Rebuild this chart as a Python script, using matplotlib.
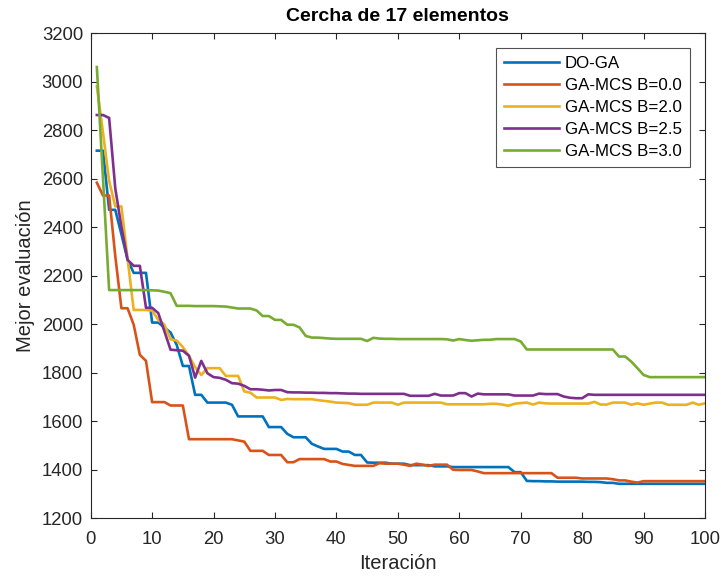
import matplotlib
matplotlib.use("Agg")
import matplotlib.pyplot as plt

# Data (best value per iteration)
iterations = list(range(1, 101))

do_ga = [2715, 2715, 2471, 2471, 2370, 2265, 2211, 2211, 2211, 2006,
         2006, 1985, 1965, 1914, 1827, 1827, 1708, 1708, 1676, 1676,
         1676, 1676, 1667, 1619, 1619, 1619, 1619, 1619, 1575, 1575,
         1575, 1547, 1533, 1533, 1533, 1506, 1495, 1485, 1485, 1485,
         1474, 1474, 1460, 1460, 1429, 1428, 1428, 1428, 1424, 1424,
         1424, 1418, 1418, 1418, 1418, 1413, 1413, 1413, 1410, 1410,
         1410, 1410, 1410, 1410, 1410, 1410, 1410, 1410, 1389, 1389,
         1353, 1352, 1352, 1351, 1351, 1350, 1350, 1350, 1350, 1350,
         1349, 1349, 1348, 1345, 1345, 1341, 1341, 1341, 1341, 1341,
         1341, 1341, 1341, 1341, 1341, 1341, 1341, 1341, 1341, 1341]

ga_b00 = [2583, 2530, 2530, 2280, 2065, 2065, 1997, 1873, 1848, 1678,
          1678, 1678, 1664, 1664, 1664, 1525, 1525, 1525, 1525, 1525,
          1525, 1525, 1525, 1520, 1515, 1477, 1477, 1477, 1460, 1460,
          1460, 1430, 1430, 1443, 1443, 1443, 1443, 1443, 1433, 1433,
          1423, 1419, 1415, 1415, 1415, 1415, 1426, 1424, 1424, 1424,
          1420, 1415, 1424, 1420, 1415, 1420, 1420, 1420, 1399, 1398,
          1398, 1398, 1392, 1385, 1385, 1385, 1385, 1385, 1385, 1385,
          1385, 1385, 1385, 1385, 1385, 1366, 1366, 1366, 1366, 1363,
          1363, 1363, 1363, 1363, 1360, 1355, 1355, 1350, 1346, 1352,
          1352, 1352, 1352, 1352, 1352, 1352, 1352, 1352, 1352, 1352]

ga_b20 = [2980, 2790, 2590, 2485, 2485, 2270, 2058, 2058, 2058, 2055,
          2017, 1997, 1937, 1932, 1905, 1869, 1822, 1790, 1818, 1818,
          1818, 1786, 1786, 1786, 1722, 1717, 1697, 1697, 1697, 1697,
          1687, 1691, 1690, 1690, 1690, 1690, 1686, 1683, 1680, 1676,
          1675, 1674, 1667, 1667, 1667, 1676, 1676, 1676, 1676, 1667,
          1676, 1676, 1676, 1676, 1676, 1676, 1676, 1669, 1669, 1669,
          1669, 1669, 1669, 1669, 1671, 1671, 1668, 1663, 1671, 1674,
          1676, 1668, 1676, 1673, 1672, 1672, 1672, 1672, 1672, 1672,
          1672, 1679, 1668, 1668, 1676, 1676, 1676, 1667, 1673, 1667,
          1672, 1676, 1676, 1667, 1667, 1667, 1667, 1676, 1667, 1673]

ga_b25 = [2862, 2862, 2850, 2560, 2400, 2265, 2240, 2240, 2067, 2067,
          2045, 1970, 1894, 1892, 1890, 1869, 1779, 1848, 1797, 1781,
          1778, 1770, 1756, 1754, 1745, 1731, 1731, 1729, 1726, 1728,
          1728, 1719, 1718, 1718, 1717, 1717, 1716, 1716, 1715, 1715,
          1714, 1713, 1713, 1712, 1712, 1712, 1712, 1712, 1712, 1712,
          1712, 1704, 1704, 1704, 1704, 1712, 1705, 1705, 1705, 1715,
          1715, 1701, 1713, 1710, 1710, 1710, 1710, 1710, 1705, 1705,
          1705, 1705, 1713, 1711, 1711, 1711, 1701, 1696, 1694, 1694,
          1710, 1708, 1708, 1708, 1708, 1708, 1708, 1708, 1708, 1708,
          1708, 1708, 1708, 1708, 1708, 1708, 1708, 1708, 1708, 1708]

ga_b30 = [3060, 2600, 2140, 2140, 2140, 2140, 2140, 2140, 2140, 2139,
          2138, 2133, 2127, 2075, 2075, 2075, 2074, 2074, 2074, 2074,
          2073, 2072, 2068, 2064, 2064, 2064, 2056, 2033, 2033, 2017,
          2017, 1997, 1997, 1986, 1951, 1944, 1944, 1942, 1940, 1939,
          1939, 1939, 1939, 1939, 1930, 1943, 1940, 1939, 1939, 1938,
          1938, 1938, 1938, 1938, 1938, 1938, 1938, 1937, 1932, 1938,
          1934, 1931, 1933, 1935, 1935, 1938, 1938, 1938, 1938, 1928,
          1895, 1895, 1895, 1895, 1895, 1895, 1895, 1895, 1895, 1895,
          1895, 1895, 1895, 1895, 1895, 1866, 1866, 1845, 1818, 1790,
          1781, 1781, 1781, 1781, 1781, 1781, 1781, 1781, 1781, 1781]

labels = ["DO-GA", "GA-MCS B=0.0", "GA-MCS B=2.0", "GA-MCS B=2.5", "GA-MCS B=3.0"]
colors = ["#0072BD", "#D95319", "#EDB120", "#7E2F8E", "#77AC30"]

plt.rcParams["font.family"] = ["Liberation Sans", "DejaVu Sans"]

fig = plt.figure(figsize=(7.21, 5.78), dpi=100)
ax = fig.add_axes([0.1258, 0.1038, 0.852, 0.839])

for series, label, color in zip([do_ga, ga_b00, ga_b20, ga_b25, ga_b30], labels, colors):
    ax.plot(iterations, series, color=color, lw=1.9, label=label)

ax.set_xlim(0, 100)
ax.set_ylim(1200, 3200)
ax.set_xticks(range(0, 101, 10))
ax.set_yticks(range(1200, 3201, 200))
ax.tick_params(direction="in", top=True, right=True, labelsize=13.3,
               length=4, width=0.8, colors="#262626")
ax.tick_params(axis="y", pad=5.5)
ax.tick_params(axis="x", pad=9)
for spine in ax.spines.values():
    spine.set_color("#262626")
    spine.set_linewidth(0.8)

ax.set_title("Cercha de 17 elementos", fontsize=14, fontweight="bold", pad=9)
ax.set_xlabel("Iteración", fontsize=14.5, color="#262626", labelpad=5)
ax.set_ylabel("Mejor evaluación", fontsize=14.5, color="#262626", labelpad=5)

leg = ax.legend(loc="upper right", fontsize=12.2, frameon=True, fancybox=False,
                edgecolor="#262626", handlelength=3.25, borderaxespad=0.9,
                labelspacing=0.42, handletextpad=0.35, borderpad=0.45)
leg.get_frame().set_linewidth(0.8)

fig.savefig("out.png", dpi=100)
